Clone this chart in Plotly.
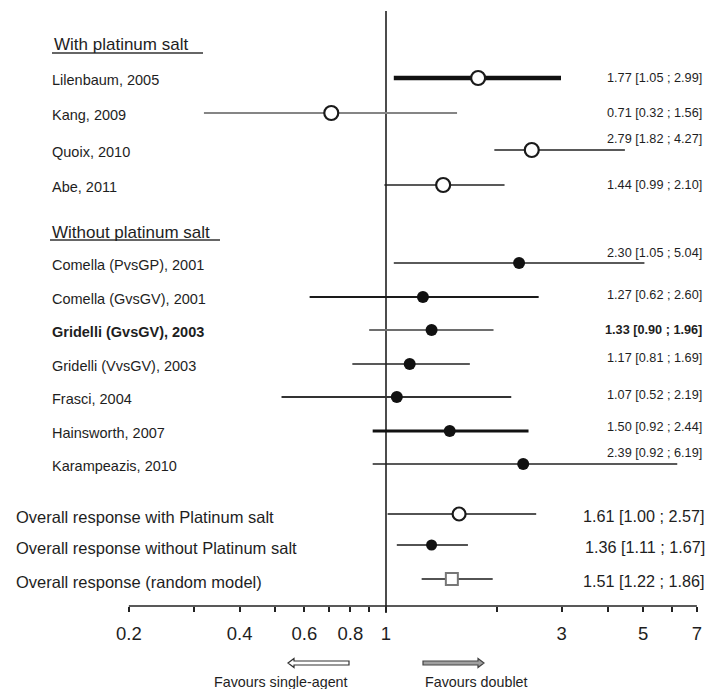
import math
import plotly.graph_objects as go

# ---------------- data ----------------
studies = ["Lilenbaum, 2005", "Kang, 2009", "Quoix, 2010", "Abe, 2011",
           "Comella (PvsGP), 2001", "Comella (GvsGV), 2001", "Gridelli (GvsGV), 2003",
           "Gridelli (VvsGV), 2003", "Frasci, 2004", "Hainsworth, 2007", "Karampeazis, 2010"]
study_group = ["with", "with", "with", "with",
               "without", "without", "without", "without", "without", "without", "without"]
study_or = [1.78, 0.71, 2.49, 1.43, 2.30, 1.26, 1.33, 1.16, 1.07, 1.49, 2.36]
study_lo = [1.05, 0.32, 1.97, 0.99, 1.05, 0.62, 0.90, 0.81, 0.52, 0.92, 0.92]
study_hi = [2.99, 1.56, 4.46, 2.10, 5.04, 2.60, 1.96, 1.69, 2.19, 2.44, 6.19]
study_text = ["1.77 [1.05 ; 2.99]", "0.71 [0.32 ; 1.56]", "2.79 [1.82 ; 4.27]", "1.44 [0.99 ; 2.10]",
              "2.30 [1.05 ; 5.04]", "1.27 [0.62 ; 2.60]", "1.33 [0.90 ; 1.96]", "1.17 [0.81 ; 1.69]",
              "1.07 [0.52 ; 2.19]", "1.50 [0.92 ; 2.44]", "2.39 [0.92 ; 6.19]"]

overall_names = ["Overall response with Platinum salt", "Overall response without Platinum salt",
                 "Overall response (random model)"]
overall_kind = ["open", "filled", "square"]
overall_or = [1.58, 1.33, 1.51]
overall_lo = [1.01, 1.07, 1.25]
overall_hi = [2.56, 1.67, 1.95]
overall_text = ["1.61 [1.00 ; 2.57]", "1.36 [1.11 ; 1.67]", "1.51 [1.22 ; 1.86]"]

headers = ["With platinum salt", "Without platinum salt"]

tick_vals = [0.2, 0.3, 0.4, 0.5, 0.6, 0.7, 0.8, 0.9, 1, 2, 3, 4, 5, 6, 7]
tick_labels = ["0.2", "", "0.4", "", "0.6", "", "0.8", "", "1", "", "3", "", "5", "", "7"]

# ---------------- layout helpers (positions / styles) ----------------
W, H = 710, 689
PLOT_BOTTOM = 606          # pixel row of the x axis line
PX_PER_DEC = 367.9
X_ONE = 386.0              # pixel column of OR = 1

study_row_y = [78, 113, 150, 185, 263, 297, 330, 364, 397, 431, 464]
study_label_dy = [0, 0, -11, 0, -10, -2, 0, -6, -2, -4, -11]
study_line_w = [4.5, 2.2, 1.5, 1.5, 2.2, 2.0, 2.2, 1.6, 2.0, 3.0, 1.6]
study_line_c = ["#111", "#858585", "#222", "#222", "#5a5a5a", "#1a1a1a", "#6e6e6e",
                "#222", "#333", "#111", "#222"]
overall_row_y = [514, 545, 579]
header_y = [44, 232]
header_ul = [(52, 203, 53), (50, 220, 240)]

FONT = "Liberation Sans, Arial, sans-serif"
TXT = "#1e1e1e"

def pxx(x):
    return x / W

def pyy(y):
    return (PLOT_BOTTOM - y) / PLOT_BOTTOM

fig = go.Figure()

def add_row(y, o, lo, hi, kind, lw, lc, size):
    fig.add_trace(go.Scatter(x=[lo, hi], y=[y, y], mode="lines",
                             line=dict(color=lc, width=lw), hoverinfo="skip",
                             showlegend=False))
    if kind == "open":
        mk = dict(symbol="circle", size=size, color="white", line=dict(color="#1a1a1a", width=2.2))
    elif kind == "filled":
        mk = dict(symbol="circle", size=size, color="#111", line=dict(color="#111", width=0))
    else:
        mk = dict(symbol="square", size=size, color="white", line=dict(color="#777", width=2))
    fig.add_trace(go.Scatter(x=[o], y=[y], mode="markers", marker=mk,
                             hoverinfo="skip", showlegend=False))

for i in range(len(studies)):
    kind = "open" if study_group[i] == "with" else "filled"
    size = 14 if kind == "open" else 12
    add_row(study_row_y[i], study_or[i], study_lo[i], study_hi[i], kind,
            study_line_w[i], study_line_c[i], size)

for i in range(len(overall_names)):
    size = {"open": 13, "filled": 11, "square": 12}[overall_kind[i]]
    add_row(overall_row_y[i], overall_or[i], overall_lo[i], overall_hi[i], overall_kind[i],
            1.5, "#1a1a1a", size)

ann = []
for i, name in enumerate(studies):
    bold = "Gridelli (GvsGV)" in name
    t = f"<b>{name}</b>" if bold else name
    ann.append(dict(x=pxx(50), y=study_row_y[i] + 2, xref="paper", yref="y", text=t,
                    showarrow=False, xanchor="left", yanchor="middle",
                    font=dict(family=FONT, size=14.5, color=TXT)))
    vt = f"<b>{study_text[i]}</b>" if bold else study_text[i]
    ann.append(dict(x=pxx(704), y=study_row_y[i] + study_label_dy[i], xref="paper", yref="y",
                    text=vt, showarrow=False, xanchor="right", yanchor="middle",
                    font=dict(family=FONT, size=12.7, color=TXT)))

for i, name in enumerate(overall_names):
    ann.append(dict(x=pxx(14), y=overall_row_y[i] + 3, xref="paper", yref="y", text=name,
                    showarrow=False, xanchor="left", yanchor="middle",
                    font=dict(family=FONT, size=16.5, color=TXT)))
    ann.append(dict(x=pxx(707), y=overall_row_y[i] + 2, xref="paper", yref="y",
                    text=overall_text[i], showarrow=False, xanchor="right", yanchor="middle",
                    font=dict(family=FONT, size=16.2, color=TXT)))

for i, h in enumerate(headers):
    ann.append(dict(x=pxx(header_ul[i][0]), y=header_y[i], xref="paper", yref="y", text=h,
                    showarrow=False, xanchor="left", yanchor="middle",
                    font=dict(family=FONT, size=17, color=TXT)))

ann.append(dict(x=pxx(212), y=pyy(682), xref="paper", yref="paper", text="Favours single-agent",
                showarrow=False, xanchor="left", yanchor="middle",
                font=dict(family=FONT, size=14.3, color=TXT)))
ann.append(dict(x=pxx(423), y=pyy(682), xref="paper", yref="paper", text="Favours doublet",
                showarrow=False, xanchor="left", yanchor="middle",
                font=dict(family=FONT, size=14.3, color=TXT)))

shapes = []
# reference line at OR = 1
shapes.append(dict(type="line", xref="x", yref="paper", x0=1, x1=1, y0=pyy(11), y1=pyy(613),
                   line=dict(color="#111", width=1.5), layer="below"))
# axis line from first to last tick
shapes.append(dict(type="line", xref="x", yref="paper", x0=tick_vals[0], x1=tick_vals[-1],
                   y0=0, y1=0, line=dict(color="#222", width=1.5)))
# header underlines
for (x0, x1, y) in header_ul:
    shapes.append(dict(type="line", xref="paper", yref="paper", x0=pxx(x0), x1=pxx(x1),
                       y0=pyy(y), y1=pyy(y), line=dict(color="#333", width=1.3)))

def arrow_path(x_tail, x_head, yc, hs=2.0, hh=4.5, hl=6.0):
    s = 1 if x_head > x_tail else -1
    b = x_head - s * hl
    pts = [(x_tail, yc - hs), (b, yc - hs), (b, yc - hh), (x_head, yc),
           (b, yc + hh), (b, yc + hs), (x_tail, yc + hs)]
    return "M " + " L ".join(f"{pxx(x):.5f},{pyy(y):.5f}" for x, y in pts) + " Z"

shapes.append(dict(type="path", xref="paper", yref="paper", path=arrow_path(349, 288, 663),
                   fillcolor="white", line=dict(color="#333", width=1.2)))
shapes.append(dict(type="path", xref="paper", yref="paper", path=arrow_path(423, 484, 663),
                   fillcolor="#a0a0a0", line=dict(color="#444", width=1.2)))

x_left = -X_ONE / PX_PER_DEC
x_right = (W - X_ONE) / PX_PER_DEC

fig.update_layout(
    width=W, height=H,
    margin=dict(l=0, r=0, t=0, b=H - PLOT_BOTTOM, pad=0),
    plot_bgcolor="white", paper_bgcolor="white",
    showlegend=False,
    annotations=ann, shapes=shapes,
    xaxis=dict(type="log", range=[x_left, x_right], showgrid=False, zeroline=False,
               showline=False, ticks="outside", ticklen=5, tickwidth=1.5, tickcolor="#222",
               tickvals=tick_vals, ticktext=tick_labels, ticklabelstandoff=6,
               tickfont=dict(family=FONT, size=18.5, color=TXT), fixedrange=True),
    yaxis=dict(range=[PLOT_BOTTOM, 0], visible=False, fixedrange=True),
)

fig.write_html("out.html",
               config={"displayModeBar": False},
               post_script="document.body.style.margin='0';document.body.style.overflow='hidden';")
